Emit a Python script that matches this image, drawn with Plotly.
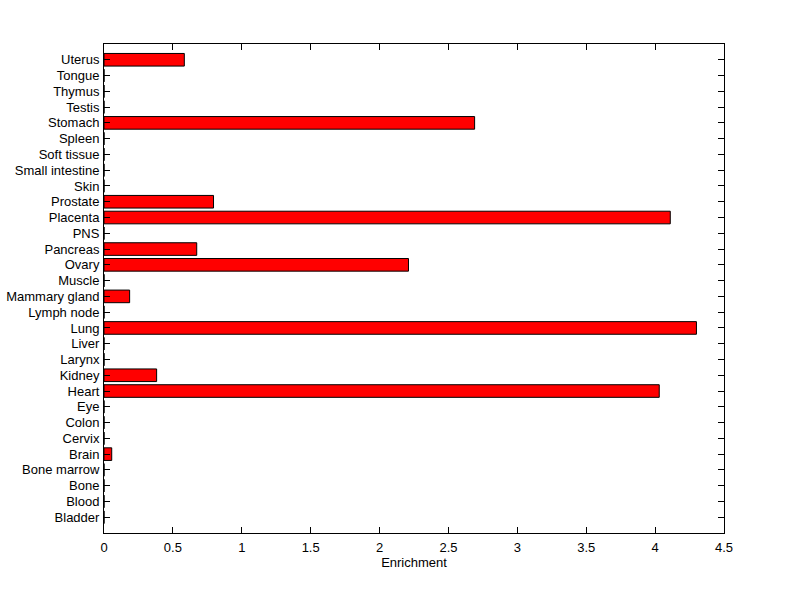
import plotly.graph_objects as go

categories = ["Bladder", "Blood", "Bone", "Bone marrow", "Brain", "Cervix", "Colon", "Eye",
              "Heart", "Kidney", "Larynx", "Liver", "Lung", "Lymph node", "Mammary gland",
              "Muscle", "Ovary", "Pancreas", "PNS", "Placenta", "Prostate", "Skin",
              "Small intestine", "Soft tissue", "Spleen", "Stomach", "Testis", "Thymus",
              "Tongue", "Uterus"]
enrichment = [0, 0, 0, 0, 0.056, 0, 0, 0,
              4.03, 0.382, 0, 0, 4.30, 0, 0.186,
              0, 2.21, 0.673, 0, 4.11, 0.795, 0,
              0, 0, 0, 2.69, 0, 0, 0, 0.583]
x_ticks = [0, 0.5, 1, 1.5, 2, 2.5, 3, 3.5, 4, 4.5]
x_tick_labels = ["0", "0.5", "1", "1.5", "2", "2.5", "3", "3.5", "4", "4.5"]

fig = go.Figure(go.Bar(
    y=categories, x=enrichment, orientation="h", width=0.8,
    marker=dict(color="#ff0000", line=dict(color="black", width=1)),
))

fig.update_layout(
    width=800, height=599,
    margin=dict(l=104, r=76, t=44, b=66),
    paper_bgcolor="white", plot_bgcolor="white",
    font=dict(family="Arial, Liberation Sans, sans-serif", size=13, color="black"),
    showlegend=False,
)
fig.update_xaxes(
    range=[0, 4.5], tickvals=x_ticks, ticktext=x_tick_labels,
    ticks="inside", ticklen=6, tickcolor="black", tickwidth=1,
    showline=True, linecolor="black", linewidth=1, mirror="ticks",
    showgrid=False, zeroline=False, ticklabelstandoff=2, automargin=False,
    title=dict(text="Enrichment", font=dict(size=13), standoff=3),
)
fig.update_yaxes(
    type="category", categoryorder="array", categoryarray=categories,
    range=[-1, 30], tickmode="array", tickvals=categories,
    ticks="inside", ticklen=6, tickcolor="black", tickwidth=1,
    showline=True, linecolor="black", linewidth=1, mirror="ticks",
    showgrid=False, zeroline=False, ticklabelstandoff=1, automargin=False,
)

fig.write_html("out.html", config={"displayModeBar": False},
               post_script="document.body.style.margin='0';")
